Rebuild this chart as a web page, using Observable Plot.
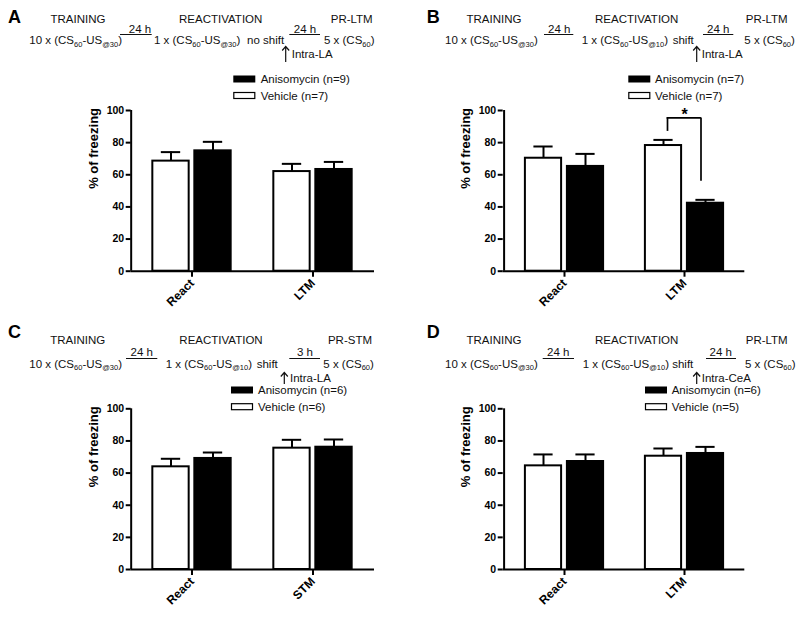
<!DOCTYPE html>
<html><head><meta charset="utf-8">
<script src="https://cdn.jsdelivr.net/npm/d3@7"></script>
<script src="https://cdn.jsdelivr.net/npm/@observablehq/plot@0.6"></script>
<style>
body{margin:0;background:#fff;}
#fig{position:relative;width:800px;height:618px;font-family:"Liberation Sans",Arial,sans-serif;overflow:hidden;}
#fig > svg{position:absolute;}
</style></head><body><div id="fig"></div>
<script>
// ---------- data ----------
const groups = ["Vehicle", "Anisomycin"];
const yTicks = [0, 20, 40, 60, 80, 100];
const catsA = ["React", "LTM"];
const catsB = ["React", "LTM"];
const catsC = ["React", "STM"];
const catsD = ["React", "LTM"];
const vehA = [68.5, 62.0], vehSemA = [5.6, 4.8];
const aniA = [74.9, 63.3], aniSemA = [5.6, 4.7];
const vehB = [70.3, 78.2], vehSemB = [7.3, 3.5];
const aniB = [65.2, 42.3], aniSemB = [7.8, 2.1];
const vehC = [63.9, 75.5], vehSemC = [5.0, 5.2];
const aniC = [69.1, 76.1], aniSemC = [3.7, 4.8];
const vehD = [64.5, 70.5], vehSemD = [7.1, 4.8];
const aniD = [67.2, 72.2], aniSemD = [4.4, 4.1];
const nAni = [9, 7, 6, 6];
const nVeh = [7, 7, 6, 5];
const sigB = [{cat: "LTM", top: 95.4, leftLo: 87, rightLo: 56, starY: 97, label: "*"}];
const letters = ["A", "B", "C", "D"];
const phase3 = ["PR-LTM", "PR-LTM", "PR-STM", "PR-LTM"];
const shiftLabels = ["no shift", "shift", "shift", "shift"];
const reactUS = ["@30", "@10", "@10", "@10"];
const interval2 = ["24 h", "24 h", "3 h", "24 h"];
const infusion = ["Intra-LA", "Intra-LA", "Intra-LA", "Intra-CeA"];

// ---------- layout ----------
const FONT = "Liberation Sans, Arial, sans-serif";
const fig = d3.select("#fig");

function rows(cats, m, s) { return cats.map((c, i) => ({cat: c, mean: m[i], upper: m[i] + s[i]})); }

function chart(o) {
  const W = 400;
  const bw = (W - o.ml - o.mr) / o.cats.length;
  const barW = 37, gap = 5, capW = 20;
  const outer = (bw - 2 * barW - gap) / 2;
  const off = (barW + gap) / 2;
  const V = rows(o.cats, o.veh, o.vehSem), A = rows(o.cats, o.ani, o.aniSem);
  const yAxisLine = [{cat: o.cats[0], lo: yTicks[0], hi: yTicks[yTicks.length - 1]}];
  const marks = [
    Plot.ruleX(V, {x: "cat", y1: "mean", y2: "upper", dx: -off, stroke: "black", strokeWidth: 2}),
    Plot.tickY(V, {x: "cat", y: "upper", insetLeft: bw / 2 - off - capW / 2, insetRight: bw / 2 + off - capW / 2, stroke: "black", strokeWidth: 2}),
    Plot.ruleX(A, {x: "cat", y1: "mean", y2: "upper", dx: off, stroke: "black", strokeWidth: 2}),
    Plot.tickY(A, {x: "cat", y: "upper", insetLeft: bw / 2 + off - capW / 2, insetRight: bw / 2 - off - capW / 2, stroke: "black", strokeWidth: 2}),
    Plot.barY(V, {x: "cat", y: "mean", insetLeft: outer, insetRight: bw - outer - barW, fill: "white", stroke: "black", strokeWidth: 2}),
    Plot.barY(A, {x: "cat", y: "mean", insetLeft: outer + barW + gap, insetRight: outer, fill: "black", stroke: "black", strokeWidth: 2}),
    Plot.ruleY([0], {stroke: "black", strokeWidth: 2}),
    Plot.ruleX(yAxisLine, {x: "cat", y1: "lo", y2: "hi", dx: -bw / 2, stroke: "black", strokeWidth: 2}),
    Plot.axisY({ticks: yTicks, tickSize: 5, tickPadding: 2, fontSize: 10.5, fontWeight: "bold", stroke: "black", strokeWidth: 2, fill: "black", label: null}),
    Plot.axisX({tickSize: 6, tickPadding: 4, tickRotate: -45, fontSize: 12, fontWeight: "bold", stroke: "black", strokeWidth: 2, fill: "black", label: null}),
    Plot.text(["% of freezing"], {frameAnchor: "left", dx: -37, dy: -2, rotate: -90, fontSize: 13, fontWeight: "bold", fill: "black"})
  ];
  if (o.sig) {
    marks.push(
      Plot.ruleX(o.sig, {x: "cat", y1: "leftLo", y2: "top", dx: -17, stroke: "black", strokeWidth: 1.7}),
      Plot.ruleX(o.sig, {x: "cat", y1: "rightLo", y2: "top", dx: 16.5, stroke: "black", strokeWidth: 1.7}),
      Plot.ruleY(o.sig, {x1: "cat", x2: "cat", y: "top", insetLeft: bw / 2 - 17.8, insetRight: bw / 2 - 17.3, stroke: "black", strokeWidth: 1.7}),
      Plot.text(o.sig, {x: "cat", y: "starY", text: "label", fontSize: 16, fontWeight: "bold", fill: "black"})
    );
  }
  const p = Plot.plot({
    width: W, height: o.height,
    marginLeft: o.ml, marginRight: o.mr, marginTop: o.mt, marginBottom: o.mb,
    x: {domain: o.cats, padding: 0},
    y: {domain: [0, 100]},
    style: {fontFamily: FONT, background: "transparent", color: "black", overflow: "visible"},
    marks
  });
  p.style.position = "absolute";
  p.style.left = o.left + "px";
  p.style.top = o.top + "px";
  fig.node().appendChild(p);
}

chart({cats: catsA, veh: vehA, vehSem: vehSemA, ani: aniA, aniSem: aniSemA, left: 0, top: 0, height: 309, ml: 130.7, mr: 26, mt: 110, mb: 38.3});
chart({cats: catsB, veh: vehB, vehSem: vehSemB, ani: aniB, aniSem: aniSemB, left: 400, top: 0, height: 309, ml: 102.7, mr: 55.7, mt: 110, mb: 38.3, sig: sigB});
chart({cats: catsC, veh: vehC, vehSem: vehSemC, ani: aniC, aniSem: aniSemC, left: 0, top: 309, height: 309, ml: 130.7, mr: 26, mt: 99.3, mb: 49});
chart({cats: catsD, veh: vehD, vehSem: vehSemD, ani: aniD, aniSem: aniSemD, left: 400, top: 309, height: 309, ml: 102.7, mr: 55.7, mt: 99.3, mb: 49});

// ---------- protocol headers & legends ----------
const svg = fig.append("svg").attr("width", 800).attr("height", 618)
  .style("left", "0px").style("top", "0px").style("pointer-events", "none")
  .attr("font-family", FONT).attr("font-size", 11.5).attr("fill", "#111");

const vTop = {letter: 22.7, phase: 23.3, interval: 32.5, iline: 34.5, proto: 44, arrowTop: 46.5, arrowBot: 62, intra: 58, leg1: 79, leg2: 95.5};
const vBot = {letter: 338.3, phase: 344, interval: 356, iline: 358.5, proto: 367.5, arrowTop: 372.5, arrowBot: 384, intra: 382, leg1: 390, leg2: 406.7};
const hx = [
  {letter: 8, train: 78, react: 220.7, pr: 351.7, p1: 29.3, l1: [120, 151.7], i1: 140, p2: 154, shift: 247, arrow: 285.7, intra: 291.7, l2: [289.3, 320], i2: 305, test: 324, legRect: 233.3, legText: 260.7},
  {letter: 426.7, train: 494, react: 636.7, pr: 766.7, p1: 445, l1: [544, 573.3], i1: 559.3, p2: 581.7, shift: 672.7, arrow: 696.7, intra: 701.7, l2: [703, 733.3], i2: 718.3, test: 744.3, legRect: 628.3, legText: 655},
  {letter: 8, train: 77.7, react: 221, pr: 350, p1: 29.3, l1: [126, 157.3], i1: 141.7, p2: 165.7, shift: 256.7, arrow: 284.3, intra: 290, l2: [289.3, 320], i2: 305, test: 323.3, legRect: 231, legText: 258},
  {letter: 426.7, train: 494, react: 636.7, pr: 766.7, p1: 445, l1: [542.7, 574], i1: 558.3, p2: 582.7, shift: null, arrow: 696.7, intra: 701.7, l2: [706, 736], i2: 720.7, test: 745, legRect: 645, legText: 671.7}
];

function rich(x, y, parts) {
  const t = svg.append("text").attr("x", x).attr("y", y);
  let shifted = false;
  parts.forEach(([s, sub]) => {
    const ts = t.append("tspan").text(s);
    if (sub && !shifted) { ts.attr("dy", 2.5).attr("font-size", 7.5); shifted = true; }
    else if (sub) { ts.attr("font-size", 7.5); }
    else if (shifted) { ts.attr("dy", -2.5); shifted = false; }
  });
  return t;
}

letters.forEach((L, i) => {
  const h = hx[i], v = i < 2 ? vTop : vBot;
  svg.append("text").attr("x", h.letter).attr("y", v.letter).attr("font-size", 18).attr("font-weight", "bold").attr("fill", "black").text(L);
  [["TRAINING", h.train], ["REACTIVATION", h.react], [phase3[i], h.pr]].forEach(([s, x]) =>
    svg.append("text").attr("x", x).attr("y", v.phase).attr("text-anchor", "middle").text(s));
  rich(h.p1, v.proto, [["10 x (CS"], ["60", 1], ["-US"], ["@30", 1], [")"]]);
  const p2parts = [["1 x (CS"], ["60", 1], ["-US"], [reactUS[i], 1], [")"]];
  if (h.shift === null) p2parts.push([" " + shiftLabels[i]]);
  rich(h.p2, v.proto, p2parts);
  if (h.shift !== null) svg.append("text").attr("x", h.shift).attr("y", v.proto).text(shiftLabels[i]);
  rich(h.test, v.proto, [["5 x (CS"], ["60", 1], [")"]]);
  [[h.l1, h.i1, "24 h"], [h.l2, h.i2, interval2[i]]].forEach(([l, c, s]) => {
    svg.append("line").attr("x1", l[0]).attr("x2", l[1]).attr("y1", v.iline).attr("y2", v.iline).attr("stroke", "#111").attr("stroke-width", 1);
    svg.append("text").attr("x", c).attr("y", v.interval).attr("text-anchor", "middle").text(s);
  });
  svg.append("path").attr("d", `M${h.arrow},${v.arrowBot}V${v.arrowTop}M${h.arrow - 3.5},${v.arrowTop + 4}L${h.arrow},${v.arrowTop}L${h.arrow + 3.5},${v.arrowTop + 4}`)
    .attr("fill", "none").attr("stroke", "#111").attr("stroke-width", 1.2);
  svg.append("text").attr("x", h.intra).attr("y", v.intra).text(infusion[i]);
  svg.append("rect").attr("x", h.legRect).attr("y", v.leg1 - 3.5).attr("width", 22).attr("height", 7).attr("fill", "black");
  svg.append("text").attr("x", h.legText).attr("y", v.leg1 + 4).text(`${groups[1]} (n=${nAni[i]})`);
  svg.append("rect").attr("x", h.legRect + 0.5).attr("y", v.leg2 - 3).attr("width", 21).attr("height", 6).attr("fill", "white").attr("stroke", "black").attr("stroke-width", 1.2);
  svg.append("text").attr("x", h.legText).attr("y", v.leg2 + 4).text(`${groups[0]} (n=${nVeh[i]})`);
});
</script></body></html>
